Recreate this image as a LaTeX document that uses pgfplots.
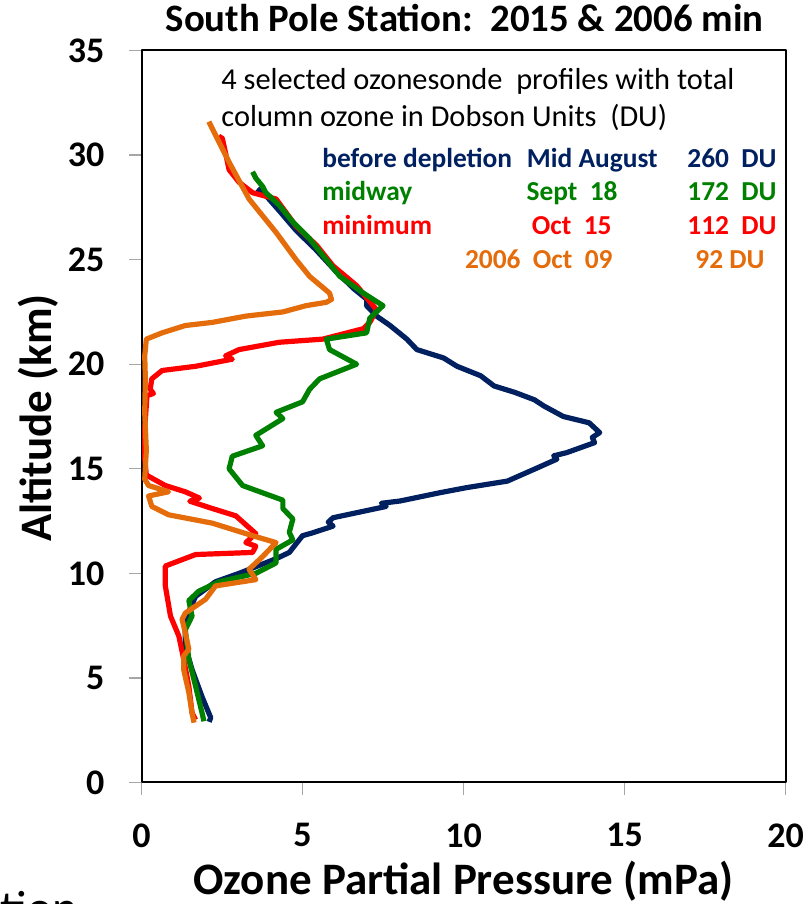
\documentclass[border=0pt]{standalone}
\usepackage{fontspec}
\setmainfont{Carlito}
\usepackage{pgfplots}
\pgfplotsset{compat=1.18}

\definecolor{navy}{RGB}{0,32,96}
\definecolor{sgreen}{RGB}{0,128,0}
\definecolor{sred}{RGB}{255,0,0}
\definecolor{sorange}{RGB}{228,108,10}

% position helper: pixel-style coordinates, origin at top-left, 1 unit = 0.5pt
\newcommand{\pxat}[2]{({#1*0.5pt},{(904-#2)*0.5pt})}
\newcommand{\fs}[1]{\fontsize{#1}{#1}\selectfont}

\begin{document}
\begin{tikzpicture}
\useasboundingbox (0,0) rectangle (405.5pt,452pt);

\begin{axis}[
  at={(70.75pt,60.75pt)}, anchor=south west,
  scale only axis, width=322pt, height=366pt,
  xmin=0, xmax=20, ymin=0, ymax=35,
  xtick={0,5,...,20}, ytick={0,5,...,35},
  tick pos=left, tick align=outside,
  major tick length=6pt,
  tick style={gray!70, line width=0.6pt},
  axis line style={black, line width=1pt},
  /pgf/number format/assume math mode=true,
  tick label style={font=\fs{18}\bfseries},
  xticklabel style={yshift=-11pt},
  yticklabel style={xshift=-9pt},
  line join=round,
  every axis plot/.append style={line width=2.6pt, no markers},
]

% before depletion, mid August 2015 (260 DU)
\addplot[navy] coordinates {
(2.10,2.9) (2.15,3.1) (1.88,4.1) (1.57,5.4) (1.36,6.5) (1.36,7.8)
(1.68,8.9) (2.30,9.6) (3.03,10.0) (4.18,10.7) (4.59,11.0) (5.00,11.8)
(5.32,11.94) (5.95,12.26) (5.80,12.45) (5.95,12.66) (7.60,13.2) (7.45,13.35) (8.03,13.46)
(9.28,13.86) (10.1,14.1) (11.36,14.41) (12.2,14.98) (12.9,15.46) (12.8,15.62)
(13.2,15.77) (14.07,16.25) (14.0,16.5) (14.23,16.73) (13.9,17.2) (13.1,17.5)
(12.5,18.0) (12.2,18.3) (11.6,18.65) (10.95,18.96) (10.53,19.45)
(9.8,19.9) (9.38,20.3) (8.55,20.7) (8.24,21.2) (7.72,21.85) (7.3,22.3)
(6.99,22.8) (7.0,23.1) (6.6,23.6) (6.0,24.5) (5.4,25.5) (4.8,26.4)
(4.3,27.3) (3.9,28.0) (3.6,28.4)
};

% minimum, Oct 15 2015 (112 DU)
\addplot[sred] coordinates {
(1.68,3.0) (1.57,3.33) (1.47,4.6) (1.31,5.9) (1.16,7.0) (0.90,7.96)
(0.74,9.4) (0.74,10.35) (1.68,10.9) (3.45,11.0) (3.55,11.3) (3.24,11.47)
(3.55,11.9) (2.93,12.75) (2.20,13.1) (1.50,13.45) (1.80,13.6) (1.36,13.9)
(0.74,14.2) (0.15,14.7) (0.10,15.5) (0.10,16.9) (0.17,18.5) (0.37,18.6)
(0.27,18.8) (0.32,19.3) (0.64,19.7) (1.68,19.9) (2.82,20.24) (2.61,20.4)
(3.03,20.7) (4.28,21.05) (5.63,21.2) (6.89,21.7) (7.09,22.0) (7.3,22.6)
(6.68,23.76) (5.95,24.7) (5.43,25.7) (4.8,26.6) (4.18,27.9) (3.45,28.2)
(3.03,28.7) (2.72,29.3) (2.61,30.1) (2.51,30.8) (2.40,30.9)
};

% midway, Sept 18 2015 (172 DU)
\addplot[sgreen] coordinates {
(1.94,2.93) (1.88,3.33) (1.68,4.6) (1.47,5.9) (1.36,7.3) (1.57,7.96)
(1.47,8.7) (1.78,9.15) (2.41,9.6) (3.55,10.0) (4.18,10.5) (4.18,11.15)
(4.70,11.6) (4.59,11.96) (4.70,12.6) (4.39,13.1) (4.39,13.5) (3.14,14.2)
(2.72,15.0) (2.82,15.6) (3.76,16.1) (3.55,16.6) (4.39,17.4) (4.18,17.7)
(5.00,18.2) (5.22,18.8) (5.53,19.3) (6.68,20.0) (5.84,20.7) (5.74,21.2)
(6.99,21.5) (7.09,22.2) (7.50,22.8) (6.89,23.4) (6.16,24.2) (5.74,25.0)
(5.22,26.0) (4.70,26.8) (4.28,27.6) (3.86,28.2) (3.76,28.5) (3.55,28.9)
(3.45,29.2)
};

% 2006 Oct 09 (92 DU)
\addplot[sorange] coordinates {
(1.63,2.86) (1.57,3.33) (1.47,4.3) (1.31,5.4) (1.31,6.05) (1.47,6.37)
(1.36,7.16) (1.26,7.8) (1.36,8.1) (1.99,8.76) (2.30,9.4) (3.55,9.7)
(3.34,10.2) (3.45,10.35) (3.76,10.8) (4.18,11.47) (3.45,11.8) (2.20,12.4)
(0.84,12.8) (0.32,13.2) (0.22,13.7) (0.84,13.9) (0.22,14.2) (0.10,14.5)
(0.15,15.9) (0.10,17.7) (0.12,19.3) (0.10,20.4) (0.15,21.2) (0.64,21.5)
(1.36,21.85) (2.20,22.0) (3.24,22.3) (4.39,22.5) (5.11,22.8) (5.74,22.96)
(5.90,23.1) (5.84,23.4) (5.22,24.2) (4.80,25.0) (4.18,26.3) (3.34,27.9)
(2.72,29.66) (2.09,31.6)
};
\end{axis}

% title and axis labels
\node[anchor=base, inner sep=0pt, font=\fs{19.4}\bfseries] at \pxat{464.5}{32}
  {South Pole Station:\ \ 2015 \& 2006 min};
\node[anchor=base, inner sep=0pt, font=\fs{22.5}\bfseries] at \pxat{463.5}{894}
  {Ozone Partial Pressure (mPa)};
\node[anchor=base, inner sep=0pt, rotate=90, font=\fs{22.5}\bfseries] at \pxat{51}{418}
  {Altitude (km)};

% description
\node[anchor=base west, inner sep=0pt, font=\fs{15.2}] at \pxat{221}{90}
  {4 selected ozonesonde\ \ profiles with total};
\node[anchor=base west, inner sep=0pt, font=\fs{15.2}] at \pxat{221}{127}
  {column ozone in Dobson Units\ \ (DU)};

% profile key
\begin{scope}[font=\fs{13.7}\bfseries, every node/.style={inner sep=0pt}]
\node[anchor=base west, text=navy] at \pxat{322}{168} {before depletion};
\node[anchor=base east, text=navy] at \pxat{658}{168} {Mid August};
\node[anchor=base east, text=navy] at \pxat{777}{168} {260\ \ DU};
\node[anchor=base west, text=sgreen] at \pxat{322}{201} {midway};
\node[anchor=base east, text=sgreen] at \pxat{618}{201} {Sept\ \ 18};
\node[anchor=base east, text=sgreen] at \pxat{777}{201} {172\ \ DU};
\node[anchor=base west, text=sred] at \pxat{322}{235} {minimum};
\node[anchor=base east, text=sred] at \pxat{612}{235} {Oct\ \ 15};
\node[anchor=base east, text=sred] at \pxat{777}{235} {112\ \ DU};
\node[anchor=base east, text=sorange] at \pxat{613}{269} {2006\ \ Oct\ \ 09};
\node[anchor=base east, text=sorange] at \pxat{765}{269} {92 DU};
\end{scope}

% fragment of a neighbouring line of text, cut by the page edge
\node[anchor=base west, font=\fs{24}, inner sep=0pt] at \pxat{0}{924} {tion};
\end{tikzpicture}
\end{document}
